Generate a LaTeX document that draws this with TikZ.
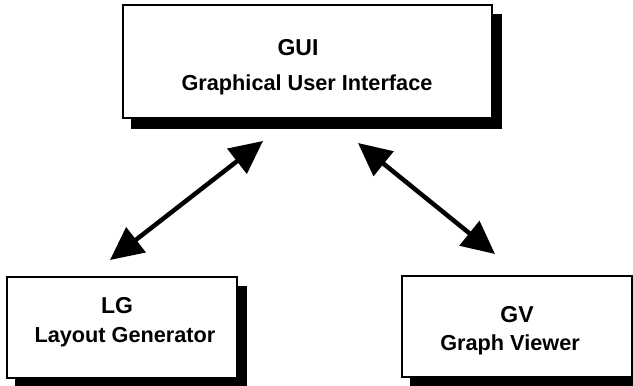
\documentclass[tikz,border=0pt]{standalone}
\usepackage{fontspec}
\setmainfont{Liberation Sans}
\usetikzlibrary{arrows.meta,backgrounds}
\begin{document}
\begin{tikzpicture}[x=1pt,y=-1pt,
  box/.style={draw=black, fill=white, line width=1.3pt, inner sep=0pt},
  shadowfill/.style={fill=black},
  title/.style={anchor=base, inner sep=0pt, font=\bfseries\fontsize{23}{27}\selectfont},
  sub/.style={anchor=base, inner sep=0pt, font=\bfseries\fontsize{21.7}{26}\selectfont},
  conn/.style={line width=4.5pt, {Triangle[length=33pt,width=31pt]}-{Triangle[length=33pt,width=31pt]}}
]
\useasboundingbox (0,0) rectangle (633,386);
% boxes
\node[box, minimum width=369pt, minimum height=113pt] (gui) at (307.5,61.5) {};
\node[box, minimum width=230pt, minimum height=101pt] (lg) at (122,327.5) {};
\node[box, minimum width=230pt, minimum height=101pt] (gv) at (517,326.5) {};
% shadows
\begin{scope}[on background layer]
  \foreach \n in {gui,lg,gv}{
    \fill[shadowfill] ([shift={(9,10)}]\n.north west) rectangle ([shift={(9,10)}]\n.south east);
  }
\end{scope}
% texts
\node[title] (guit) at (298,55) {GUI};
\node[sub] (guis) at (307,90) {Graphical User Interface};
\node[title] (lgt) at (117,313) {LG};
\node[sub] (lgs) at (125,342) {Layout Generator};
\node[title] (gvt) at (517,322) {GV};
\node[sub] (gvs) at (510,350) {Graph Viewer};
% connector ends
\coordinate (a1) at (263,141);
\coordinate (a2) at (110,260);
\coordinate (b1) at (358,143);
\coordinate (b2) at (495,254);
\draw[conn] (a1) -- (a2);
\draw[conn] (b1) -- (b2);
\end{tikzpicture}
\end{document}
